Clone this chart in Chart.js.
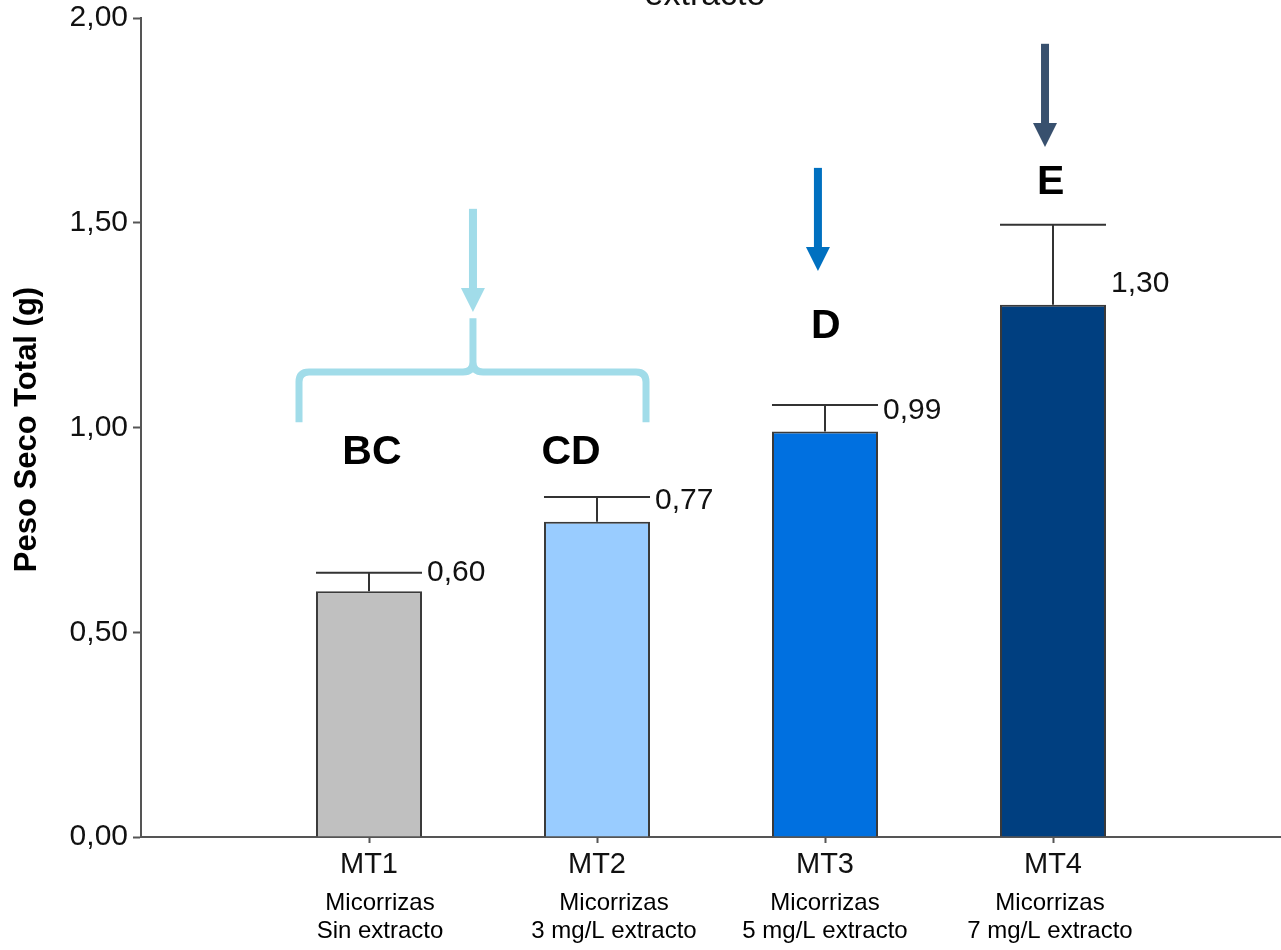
<!DOCTYPE html>
<html>
<head>
<meta charset="utf-8">
<script src="https://cdn.jsdelivr.net/npm/chart.js@4.4.1/dist/chart.umd.min.js"></script>
<style>
  html, body { margin: 0; padding: 0; background: #fff; }
  canvas { display: block; }
</style>
</head>
<body>
<canvas id="pesoChart" width="1281" height="950"></canvas>
<script>
// Peso seco total por tratamiento (micorrizas + extracto)
const categories = ['MT1', 'MT2', 'MT3', 'MT4'];
const subLabels = [
  ['Micorrizas', 'Sin extracto'],
  ['Micorrizas', '3 mg/L extracto'],
  ['Micorrizas', '5 mg/L extracto'],
  ['Micorrizas', '7 mg/L extracto']
];
const pesoSeco = [0.60, 0.77, 0.99, 1.30];
const errores = [0.045, 0.06, 0.065, 0.195];
const letras = ['BC', 'CD', 'D', 'E'];
const yTicks = [0, 0.5, 1, 1.5, 2];

const barColors = ['#C0C0C0', '#99CCFF', '#0070E0', '#003F80'];
const FONT = '"Liberation Sans", Arial, sans-serif';

// annotation placement, in axis units
const letraPos = [{ x: 1.013, y: 0.938 }, { x: 1.886, y: 0.938 }, { x: 3.004, y: 1.245 }, { x: 3.99, y: 1.597 }];
const flechas = [
  { x: 1.456, y0: 1.534, y1: 1.282, color: '#A1DCE9' },
  { x: 2.969, y0: 1.634, y1: 1.382, color: '#0070C0' },
  { x: 3.965, y0: 1.937, y1: 1.685, color: '#38506E' }
];
const llave = { x0: 0.693, x1: 2.215, xc: 1.456, yBase: 1.013, yBar: 1.1355, yTop: 1.267, color: '#A1DCE9' };
// the sub labels are not quite centred under the bars in the original
const subShift = [11, 17, 0, -3];

function fmt(v) {
  return v.toFixed(2).replace('.', ',');
}

function drawArrow(ctx, x, yTop, yTip, color) {
  const head = 24;
  ctx.fillStyle = color;
  ctx.fillRect(x - 4, yTop, 8, yTip - head - yTop + 1);
  ctx.beginPath();
  ctx.moveTo(x - 12, yTip - head);
  ctx.lineTo(x + 12, yTip - head);
  ctx.lineTo(x, yTip);
  ctx.closePath();
  ctx.fill();
}

const extrasPlugin = {
  id: 'extras',
  afterDatasetsDraw(chart) {
    const ctx = chart.ctx;
    const xs = chart.scales.x;
    const ys = chart.scales.y;
    const meta = chart.getDatasetMeta(0);
    ctx.save();

    // error bars + value labels
    pesoSeco.forEach((v, i) => {
      const bar = meta.data[i];
      const half = bar.width / 2;
      const cx = bar.x;
      const yBar = ys.getPixelForValue(v);
      const yErr = ys.getPixelForValue(v + errores[i]);
      ctx.strokeStyle = '#333';
      ctx.lineWidth = 2;
      ctx.beginPath();
      ctx.moveTo(cx, yBar);
      ctx.lineTo(cx, yErr);
      ctx.moveTo(cx - half, yErr);
      ctx.lineTo(cx + half, yErr);
      ctx.stroke();

      const anchor = Math.min(v + errores[i], v + 0.05);
      ctx.fillStyle = '#111';
      ctx.font = '30px ' + FONT;
      ctx.textAlign = 'left';
      ctx.textBaseline = 'middle';
      ctx.fillText(fmt(v), cx + half + 5, ys.getPixelForValue(anchor));
    });

    // significance letters
    ctx.font = 'bold 41px ' + FONT;
    ctx.textAlign = 'center';
    ctx.textBaseline = 'middle';
    ctx.fillStyle = '#000';
    letras.forEach((t, i) => {
      ctx.fillText(t, xs.getPixelForValue(letraPos[i].x), ys.getPixelForValue(letraPos[i].y));
    });

    // arrows
    flechas.forEach(f => {
      drawArrow(ctx, xs.getPixelForValue(f.x), ys.getPixelForValue(f.y0), ys.getPixelForValue(f.y1), f.color);
    });

    // brace over MT1 / MT2
    const lx = xs.getPixelForValue(llave.x0);
    const rx = xs.getPixelForValue(llave.x1);
    const cx = xs.getPixelForValue(llave.xc);
    const yb = ys.getPixelForValue(llave.yBase);
    const yh = ys.getPixelForValue(llave.yBar);
    const yt = ys.getPixelForValue(llave.yTop);
    const r = 10;
    ctx.strokeStyle = llave.color;
    ctx.lineWidth = 7;
    ctx.lineJoin = 'round';
    ctx.beginPath();
    ctx.moveTo(lx, yb);
    ctx.lineTo(lx, yh + r);
    ctx.quadraticCurveTo(lx, yh, lx + r, yh);
    ctx.lineTo(cx - r, yh);
    ctx.quadraticCurveTo(cx, yh, cx, yh - r);
    ctx.lineTo(cx, yt);
    ctx.moveTo(rx, yb);
    ctx.lineTo(rx, yh + r);
    ctx.quadraticCurveTo(rx, yh, rx - r, yh);
    ctx.lineTo(cx + r, yh);
    ctx.quadraticCurveTo(cx, yh, cx, yh - r);
    ctx.stroke();

    // category names and the two description lines below them
    ctx.textAlign = 'center';
    ctx.textBaseline = 'middle';
    categories.forEach((c, i) => {
      const x = xs.getPixelForValue(i + 1);
      ctx.fillStyle = '#111';
      ctx.font = '29px ' + FONT;
      ctx.fillText(c, x, 865);
      ctx.fillStyle = '#000';
      ctx.font = '24px ' + FONT;
      ctx.fillText(subLabels[i][0], x + subShift[i], 903);
      ctx.fillText(subLabels[i][1], x + subShift[i], 931);
    });

    // y axis title
    ctx.save();
    ctx.translate(27, (chart.chartArea.top + chart.chartArea.bottom) / 2 + 2);
    ctx.rotate(-Math.PI / 2);
    ctx.font = 'bold 31px ' + FONT;
    ctx.fillText('Peso Seco Total (g)', 0, 0);
    ctx.restore();

    // cut-off chart title at top
    ctx.font = '34px ' + FONT;
    ctx.textBaseline = 'alphabetic';
    ctx.fillStyle = '#111';
    ctx.fillText('extracto', 705, 5);

    ctx.restore();
  }
};

window.addEventListener('DOMContentLoaded', () => {
  const ctx = document.getElementById('pesoChart').getContext('2d');
  new Chart(ctx, {
    type: 'bar',
    data: {
      datasets: [{
        data: pesoSeco.map((v, i) => ({ x: i + 1, y: v })),
        backgroundColor: barColors,
        borderColor: '#3a3a3a',
        borderWidth: 2,
        barPercentage: 0.465,
        categoryPercentage: 1
      }]
    },
    options: {
      responsive: false,
      animation: false,
      layout: { padding: { top: 18, right: 0, left: 0, bottom: 0 } },
      plugins: {
        legend: { display: false },
        tooltip: { enabled: false }
      },
      scales: {
        x: {
          type: 'linear',
          min: 0,
          max: 5,
          offset: false,
          afterFit: (s) => { s.height = 113; s.paddingLeft = 0; s.paddingRight = 0; },
          afterBuildTicks: (s) => { s.ticks = categories.map((c, i) => ({ value: i + 1 })); },
          grid: { display: true, offset: false, drawOnChartArea: false, drawTicks: true, tickLength: 6, tickColor: '#555', tickWidth: 2 },
          border: { display: true, color: '#555', width: 2 },
          ticks: { display: false }
        },
        y: {
          min: 0,
          max: 2,
          afterFit: (s) => { s.width = 141; s.paddingTop = 0; s.paddingBottom = 0; },
          afterBuildTicks: (s) => { s.ticks = yTicks.map(v => ({ value: v })); },
          grid: { display: true, drawOnChartArea: false, drawTicks: true, tickLength: 8, tickColor: '#555', tickWidth: 2 },
          border: { display: true, color: '#555', width: 2 },
          ticks: {
            padding: 5,
            color: '#111',
            font: { family: FONT, size: 30 },
            callback: (v) => fmt(v)
          }
        }
      }
    },
    plugins: [extrasPlugin]
  });
});
</script>
</body>
</html>
